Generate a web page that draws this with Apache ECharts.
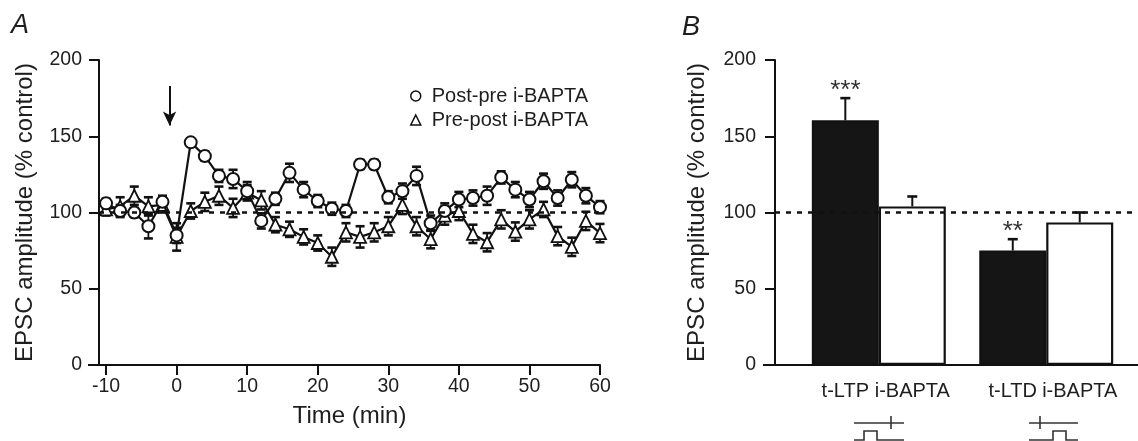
<!DOCTYPE html>
<html><head><meta charset="utf-8">
<script src="https://cdn.jsdelivr.net/npm/echarts@6/dist/echarts.min.js"></script>
<style>html,body{margin:0;padding:0;background:#fff}#c{width:1138px;height:441px}</style>
</head><body><div id="c"></div>
<script>
// ---------- Panel A data ----------
const times = [-10,-8,-6,-4,-2,0,2,4,6,8,10,12,14,16,18,20,22,24,26,28,30,32,34,36,38,40,42,44,46,48,50,52,54,56,58,60];
const postPre = [106,101,100,91,107,85,146,137,124,122,114,94.5,109,126,115,107.5,102.5,101,131.5,131.5,110,114,124,93,101,108.5,109.5,111,123,115,108.5,120.5,109.5,121.5,111,103.5];
const postPreSem = [3,4,3,8,4,5,2,3,4,6,6,5,4,6,5,4,4,4,3,3,4,5,6,5,5,5,5,6,4,5,5,5,5,5,5,4];
const prePost = [102,104,111,104,105,84,101,107,111,103,113,108,92,89,84,80,71,87,84,87,91,105,91,82.5,98,101,86,80.5,95.5,87.5,95.5,102,84.5,77.5,94.5,86.5];
const prePostSem = [4,6,6,6,5,9,5,6,6,6,5,6,5,5,5,5,6,6,7,6,6,6,6,6,6,6,6,6,6,6,6,5,6,6,6,6];
const seriesNames = ['Post-pre i-BAPTA','Pre-post i-BAPTA'];
const xTicksA = [-10,0,10,20,30,40,50,60];
const xRangeA = [-11,60];
const yRange = [0,200];
const yStep = 50;
const baseline = 100;
const arrowTime = -1, arrowFrom = 183, arrowTo = 157;

// ---------- Panel B data ----------
const barCategories = ['t-LTP','i-BAPTA','t-LTD','i-BAPTA'];
const barMeans = [160.5,104,75,93.5];
const barSem = [14.5,6.5,7.5,6.5];
const barSig = ['***','','**',''];
const xRangeB = [-1.05,4.37];

const FONT = "'Liberation Sans', Arial, Helvetica, sans-serif";
const INK = '#111';
const TXT = '#1e1e1e';

// slot position of each bar: pairs separated by an extra half slot
const slot = i => i + 0.5 * Math.floor(i / 2);
const slots = barCategories.map((c, i) => slot(i));

function errA(params, api) {
  const t = api.value(0), lo = api.value(1), hi = api.value(2);
  const a = api.coord([t, lo]), b = api.coord([t, hi]);
  const w = 4.5;
  return {type: 'group', children: [
    {type: 'line', shape: {x1: a[0], y1: a[1], x2: b[0], y2: b[1]}, style: {stroke: INK, lineWidth: 1.8}},
    {type: 'line', shape: {x1: a[0]-w, y1: a[1], x2: a[0]+w, y2: a[1]}, style: {stroke: INK, lineWidth: 2.6}},
    {type: 'line', shape: {x1: b[0]-w, y1: b[1], x2: b[0]+w, y2: b[1]}, style: {stroke: INK, lineWidth: 2.6}}
  ]};
}
function errB(params, api) {
  const x = api.value(0), m = api.value(1), hi = api.value(2), idx = api.value(3);
  const a = api.coord([x, m]), b = api.coord([x, hi]);
  const w = 5;
  const kids = [
    {type: 'line', shape: {x1: a[0], y1: a[1], x2: b[0], y2: b[1]}, style: {stroke: INK, lineWidth: 2}},
    {type: 'line', shape: {x1: b[0]-w, y1: b[1], x2: b[0]+w, y2: b[1]}, style: {stroke: INK, lineWidth: 2.6}}
  ];
  if (barSig[idx]) kids.push({type: 'text', x: b[0], y: b[1] + 6,
    style: {text: barSig[idx], textAlign: 'center', textVerticalAlign: 'bottom', font: '26px ' + FONT, fill: '#333'}});
  return {type: 'group', children: kids};
}

const axisLine = {show: true, onZero: false, lineStyle: {color: INK, width: 2}};
const axisTick = {show: true, length: 10, lineStyle: {color: INK, width: 2}};

const chart = echarts.init(document.getElementById('c'), null, {renderer: 'canvas'});
chart.setOption({
  animation: false,
  backgroundColor: '#fff',
  textStyle: {fontFamily: FONT},
  grid: [
    {left: 99, top: 60, width: 501, height: 305},
    {left: 775, top: 60, width: 363, height: 305}
  ],
  xAxis: [
    {gridIndex: 0, type: 'value', min: xRangeA[0], max: xRangeA[1],
     axisLine: axisLine, splitLine: {show: false},
     axisTick: Object.assign({}, axisTick, {customValues: xTicksA}),
     axisLabel: {customValues: xTicksA, color: TXT, fontSize: 19.5, fontFamily: FONT, margin: 12},
     name: 'Time (min)', nameLocation: 'middle', nameGap: 39,
     nameTextStyle: {fontSize: 24, color: TXT, fontFamily: FONT}},
    {gridIndex: 1, type: 'value', min: xRangeB[0], max: xRangeB[1],
     axisLine: axisLine, splitLine: {show: false}, axisTick: {show: false},
     axisLabel: {customValues: slots, color: TXT, fontSize: 20, fontFamily: FONT, margin: 16,
       formatter: v => { const i = slots.findIndex(s => Math.abs(s - v) < 1e-6); return i >= 0 ? barCategories[i] : ''; }}}
  ],
  yAxis: [
    {gridIndex: 0, type: 'value', min: yRange[0], max: yRange[1], interval: yStep,
     axisLine: axisLine, axisTick: axisTick, splitLine: {show: false},
     axisLabel: {color: TXT, fontSize: 19.5, fontFamily: FONT, margin: 17},
     name: 'EPSC amplitude (% control)', nameLocation: 'middle', nameGap: 62,
     nameTextStyle: {fontSize: 24, color: TXT, fontFamily: FONT}},
    {gridIndex: 1, type: 'value', min: yRange[0], max: yRange[1], interval: yStep,
     axisLine: axisLine, axisTick: axisTick, splitLine: {show: false},
     axisLabel: {color: TXT, fontSize: 19.5, fontFamily: FONT, margin: 19},
     name: 'EPSC amplitude (% control)', nameLocation: 'middle', nameGap: 66,
     nameTextStyle: {fontSize: 24, color: TXT, fontFamily: FONT}}
  ],
  legend: {
    orient: 'vertical', left: 405, top: 81, itemGap: 4, itemWidth: 10, itemHeight: 10,
    textStyle: {fontSize: 20, color: TXT, fontFamily: FONT, lineHeight: 20, padding: [0, 0, 0, 6]},
    data: [
      {name: seriesNames[0], icon: 'circle', itemStyle: {color: '#fff', borderColor: INK, borderWidth: 1.5}},
      {name: seriesNames[1], icon: 'triangle', itemStyle: {color: '#fff', borderColor: INK, borderWidth: 1.5}}
    ]
  },
  series: [
    {type: 'custom', name: 'errPre', xAxisIndex: 0, yAxisIndex: 0, z: 1, renderItem: errA,
     encode: {x: 0, y: [1, 2]},
     data: times.map((t, i) => [t, prePost[i] - prePostSem[i], prePost[i] + prePostSem[i]]),
     markLine: {silent: true, symbol: 'none', label: {show: false},
       lineStyle: {color: INK, width: 2.5, type: [5, 6]},
       data: [{yAxis: baseline}]}},
    {type: 'custom', name: 'errPost', xAxisIndex: 0, yAxisIndex: 0, z: 1, renderItem: errA,
     encode: {x: 0, y: [1, 2]},
     data: times.map((t, i) => [t, postPre[i] - postPreSem[i], postPre[i] + postPreSem[i]]),
     markLine: {silent: true, symbol: ['none', 'arrow'], symbolSize: [10, 14], label: {show: false},
       lineStyle: {color: INK, width: 2, type: 'solid'},
       data: [[{coord: [arrowTime, arrowFrom]}, {coord: [arrowTime, arrowTo]}]]}},
    {type: 'line', name: seriesNames[1], xAxisIndex: 0, yAxisIndex: 0, z: 3,
     data: times.map((t, i) => [t, prePost[i]]),
     symbol: 'triangle', symbolSize: 12, showAllSymbol: true,
     lineStyle: {color: INK, width: 2.2},
     itemStyle: {color: '#fff', borderColor: INK, borderWidth: 1.8}},
    {type: 'line', name: seriesNames[0], xAxisIndex: 0, yAxisIndex: 0, z: 4,
     data: times.map((t, i) => [t, postPre[i]]),
     symbol: 'circle', symbolSize: 12, showAllSymbol: true,
     lineStyle: {color: INK, width: 2.2},
     itemStyle: {color: '#fff', borderColor: INK, borderWidth: 2}},
    {type: 'bar', name: 'bars', xAxisIndex: 1, yAxisIndex: 1, z: 2, barWidth: 67,
     data: barMeans.map((m, i) => ({value: [slots[i], m],
       itemStyle: {color: i % 2 === 0 ? '#151515' : '#fff', borderColor: INK, borderWidth: 2.2}}))},
    {type: 'custom', name: 'errB', xAxisIndex: 1, yAxisIndex: 1, z: 5, renderItem: errB,
     encode: {x: 0, y: [1, 2]},
     data: barMeans.map((m, i) => [slots[i], m, m + barSem[i], i]),
     markLine: {silent: true, symbol: 'none', label: {show: false},
       lineStyle: {color: INK, width: 2.5, type: [5, 6]},
       data: [{yAxis: baseline}]}}
  ],
  graphic: [
    {type: 'text', left: 11, top: 12, style: {text: 'A', font: 'italic 27px ' + FONT, fill: TXT}},
    {type: 'text', left: 682, top: 14, style: {text: 'B', font: 'italic 27px ' + FONT, fill: TXT}},
    {type: 'line', shape: {x1: 88, y1: 365, x2: 100, y2: 365}, style: {stroke: INK, lineWidth: 2}},
    {type: 'line', shape: {x1: 763, y1: 365, x2: 776, y2: 365}, style: {stroke: INK, lineWidth: 2}},
    // stimulus icons
    {type: 'polyline', shape: {points: [[854,423],[904,423]]}, style: {stroke: '#333', lineWidth: 1.6, fill: null}},
    {type: 'line', shape: {x1: 891, y1: 416, x2: 891, y2: 429}, style: {stroke: '#333', lineWidth: 1.6}},
    {type: 'polyline', shape: {points: [[854,440],[864,440],[864,431],[877,431],[877,440],[904,440]]}, style: {stroke: '#333', lineWidth: 1.6, fill: null}},
    {type: 'polyline', shape: {points: [[1029,423],[1078,423]]}, style: {stroke: '#333', lineWidth: 1.6, fill: null}},
    {type: 'line', shape: {x1: 1040, y1: 416, x2: 1040, y2: 429}, style: {stroke: '#333', lineWidth: 1.6}},
    {type: 'polyline', shape: {points: [[1029,440],[1053,440],[1053,431],[1066,431],[1066,440],[1078,440]]}, style: {stroke: '#333', lineWidth: 1.6, fill: null}}
  ]
});
</script>
</body></html>
